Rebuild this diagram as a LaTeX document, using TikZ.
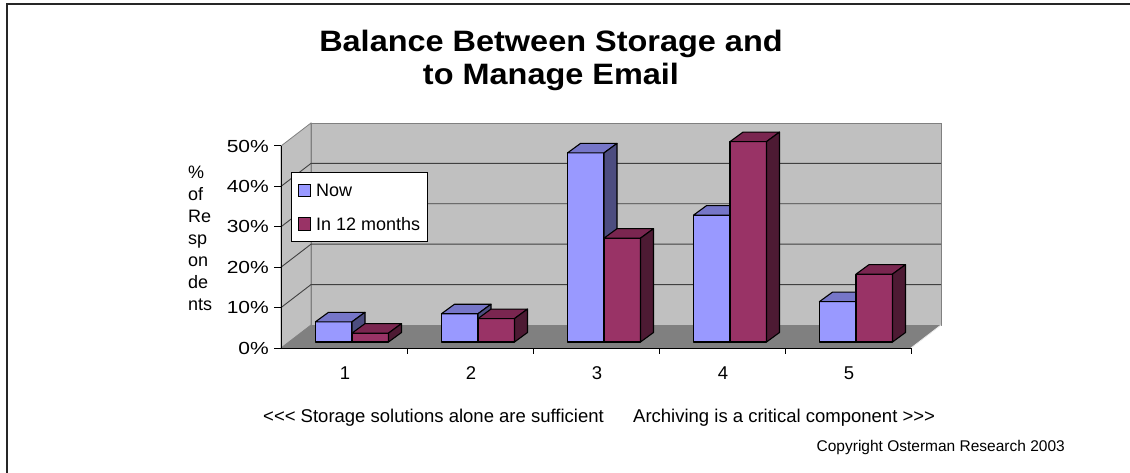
\documentclass[tikz,border=0pt]{standalone}
\usepackage{fontspec}
\setmainfont[Ligatures=TeXOff]{Liberation Sans}
\newfontfamily\axisfont[FakeStretch=1.2]{Liberation Sans}
\newfontfamily\titlefont[FakeStretch=1.1]{Liberation Sans}
\definecolor{nowfront}{HTML}{9999FF}
\definecolor{nowtop}{HTML}{7676C8}
\definecolor{nowside}{HTML}{4D4D80}
\definecolor{infront}{HTML}{993366}
\definecolor{intop}{HTML}{7A2650}
\definecolor{inside}{HTML}{4D1A33}
\definecolor{wall}{HTML}{C0C0C0}
\definecolor{floorc}{HTML}{808080}
\newcommand{\drawbar}[5]{%
  \pgfmathsetmacro{\ytop}{342-#2*4.04}%
  \draw[barline, fill=#3] ({#1},342) rectangle ({#1+36.5},\ytop);
  \draw[barline, fill=#4] ({#1},\ytop) -- ++(13,-9.5) -- ++(36.5,0) -- ++(-13,9.5) -- cycle;
  \draw[barline, fill=#5] ({#1+36.5},342) -- ({#1+36.5},\ytop) -- ++(13,-9.5) -- ({#1+49.5},332.5) -- cycle;
}
\begin{document}
\begin{tikzpicture}[x=1pt,y=-1pt,
  barline/.style={draw=black, line width=1.1pt, line join=round},
  grid/.style={black!75, line width=0.9pt},
  ticklab/.style={font=\axisfont\fontsize{17.5}{18}\selectfont, anchor=east, inner sep=0pt},
  catlab/.style={font=\fontsize{18.5}{20}\selectfont, anchor=base, inner sep=0pt},
  caption/.style={font=\fontsize{18.5}{20}\selectfont, anchor=base west, inner sep=0pt},
  titlestyle/.style={font=\titlefont\bfseries\fontsize{29.5}{33}\selectfont, anchor=base, inner sep=0pt},
  legtext/.style={font=\fontsize{18}{20}\selectfont, anchor=west, inner sep=0pt}]
\useasboundingbox (0,0) rectangle (1130,473);
\fill[white] (0,0) rectangle (1130,473);
\draw[line width=2pt, black!85] (7,473) -- (7,4.5) -- (1130,4.5);
% title
\node[titlestyle] (title1) at (551,52) {Balance Between Storage and};
\node[titlestyle] (title2) at (551,85) {to Manage Email};
% walls
\filldraw[fill=wall, draw=floorc, line width=0.8pt] (281,348) -- (281,146) -- (311,123) -- (311,325) -- cycle;
\filldraw[fill=wall, draw=floorc, line width=0.8pt] (311,123) rectangle (941,325);
\fill[floorc] (281,348) -- (911,348) -- (941,325) -- (311,325) -- cycle;
\draw[white!85!gray, line width=0.8pt] (911,348) -- (941,325);
\foreach \v in {10,20,30,40} {
  \pgfmathsetmacro{\yy}{348-\v*4.04}
  \draw[grid] (281,\yy) -- ++(30,-23) -- ++(630,0);
}
% axes
\draw[black, line width=1pt] (281,146) -- (281,348) -- (911,348);
\foreach \v in {0,10,20,30,40,50} {
  \pgfmathsetmacro{\yy}{348-\v*4.04}
  \draw[black, line width=1pt] (274,\yy) -- (281,\yy);
  \node[ticklab] (y\v) at (269,\yy) {\v\%};
}
\foreach \k in {1,...,5} {
  \draw[black, line width=1pt] ({281+126*\k},348) -- ++(0,6);
}
% bars
\foreach \i/\a/\b in {1/5/2.2, 2/7/5.8, 3/46.8/25.7, 4/31.4/49.6, 5/10/16.8} {
  \pgfmathsetmacro{\cx}{281+126*(\i-0.5)+8}
  \drawbar{\cx-36.5}{\a}{nowfront}{nowtop}{nowside}
  \drawbar{\cx}{\b}{infront}{intop}{inside}
  \node[catlab] (cat\i) at ({281+126*(\i-0.5)+1},379) {\i};
}
% y axis title
\node[font=\fontsize{18}{22}\selectfont, align=left, anchor=north west, inner sep=0pt] (ylabel) at (188,166) {\%\\of\\Re\\sp\\on\\de\\nts};
% legend
\node[draw=black, fill=white, line width=0.9pt, minimum width=135.7pt, minimum height=68.4pt, inner sep=0pt, anchor=north west] (legend) at (291,172.3) {};
\node[draw=black, fill=nowfront, line width=0.9pt, minimum size=12.5pt, inner sep=0pt] (mkNow) at (304.5,190.5) {};
\node[draw=black, fill=infront, line width=0.9pt, minimum size=12.5pt, inner sep=0pt] (mkIn) at (304.5,224) {};
\node[legtext] (legNow) at (316,190.5) {Now};
\node[legtext] (legIn) at (316,224) {In 12 months};
% captions
\node[caption] (capL) at (263,422.5) {<<< Storage solutions alone are sufficient};
\node[caption] (capR) at (633,422.5) {Archiving is a critical component >>>};
\node[font=\fontsize{15.5}{18}\selectfont, anchor=base east, inner sep=0pt] (copy) at (1065,451.5) {Copyright Osterman Research 2003};
\end{tikzpicture}
\end{document}
